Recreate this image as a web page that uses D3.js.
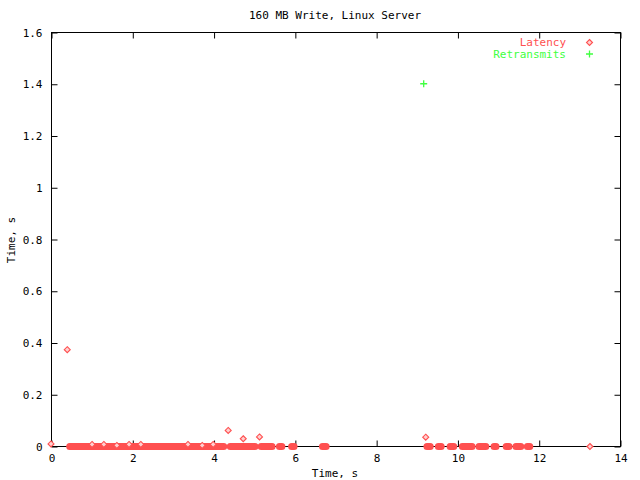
<!DOCTYPE html>
<html>
<head>
<meta charset="utf-8">
<script src="https://cdn.jsdelivr.net/npm/d3@7"></script>
<style>
  body { margin: 0; background: #fff; }
  text { font-family: "DejaVu Sans Mono", monospace; font-size: 11px; fill: #000; }
</style>
</head>
<body>
<svg id="chart" width="640" height="480"></svg>
<script>
// chart values
const title = '160 MB Write, Linux Server';
const xTicks = [0, 2, 4, 6, 8, 10, 12, 14];
const yTicks = [0, 0.2, 0.4, 0.6, 0.8, 1, 1.2, 1.4, 1.6];

// latency samples that stand alone: [time, latency]
const latencyPoints = [
    [0.0, 0.01], [0.40, 0.374], [1.01, 0.008], [1.30, 0.008], [1.62, 0.004],
    [1.92, 0.008], [2.21, 0.008], [3.37, 0.008], [3.72, 0.004], [3.99, 0.008],
    [4.36, 0.062], [4.73, 0.030], [5.13, 0.037], [9.22, 0.036], [13.26, 0.0]
];
// dense runs of latency samples sitting on zero: start and end time
const runStart = [0.46, 4.41, 5.17, 5.62, 5.92, 6.68, 9.25, 9.53, 9.82, 10.12, 10.53, 10.90, 11.20, 11.44, 11.72];
const runEnd   = [4.25, 5.02, 5.44, 5.68, 5.98, 6.77, 9.33, 9.60, 9.91, 10.36, 10.70, 10.95, 11.27, 11.56, 11.78];

// retransmits: [time, value]
const retransmits = [[9.17, 1.4]];

const red = '#ff5050';
const green = '#40ff40';

const margin = {left: 51, right: 20, top: 32, bottom: 34};
const width = 640, height = 480;

const svg = d3.select('#chart');

const x = d3.scaleLinear().domain([0, 14]).range([margin.left, width - margin.right]);
const y = d3.scaleLinear().domain([0, 1.6]).range([height - margin.bottom, margin.top]);

const fmt = d => String(+d.toFixed(1));

// frame
svg.append('rect')
    .attr('x', x(0) + 0.5).attr('y', y(1.6) + 0.5)
    .attr('width', x(14) - x(0)).attr('height', y(0) - y(1.6))
    .attr('fill', 'none').attr('stroke', '#000');

// axes with inward ticks, mirrored on the far sides
const addAxis = (axis, tx, ty) => {
    const g = svg.append('g').attr('transform', `translate(${tx},${ty})`).call(axis);
    g.select('.domain').remove();
    g.selectAll('line').attr('stroke', '#000');
    g.selectAll('text').style('font-family', '"DejaVu Sans Mono", monospace').style('font-size', '11px').attr('fill', '#000');
    return g;
};
addAxis(d3.axisBottom(x).tickValues(xTicks).tickFormat(fmt).tickSizeInner(-6).tickPadding(8), 0.5, y(0) + 0.5);
addAxis(d3.axisTop(x).tickValues(xTicks).tickFormat('').tickSizeInner(-6), 0.5, y(1.6) + 0.5);
addAxis(d3.axisLeft(y).tickValues(yTicks).tickFormat(fmt).tickSizeInner(-6).tickPadding(9), x(0) + 0.5, 0.5);
addAxis(d3.axisRight(y).tickValues(yTicks).tickFormat('').tickSizeInner(-6), x(14) + 0.5, 0.5);

// labels
svg.append('text').attr('x', 335).attr('y', 19).attr('text-anchor', 'middle').text(title);
svg.append('text').attr('x', 335).attr('y', 477).attr('text-anchor', 'middle').text('Time, s');
svg.append('text').attr('transform', 'translate(15,240) rotate(-90)').attr('text-anchor', 'middle').text('Time, s');

const diamond = (g, cx, cy) => g.append('path')
    .attr('d', `M${cx},${cy - 3}L${cx + 3},${cy}L${cx},${cy + 3}L${cx - 3},${cy}Z`)
    .attr('fill', '#ffd0d0').attr('stroke', red).attr('stroke-width', 1.1);

const plot = svg.append('g');

// dense runs drawn as thick bands
plot.selectAll('line.run')
    .data(d3.range(runStart.length))
    .join('line')
    .attr('class', 'run')
    .attr('x1', i => x(runStart[i])).attr('x2', i => x(runEnd[i]))
    .attr('y1', y(0) + 0.5).attr('y2', y(0) + 0.5)
    .attr('stroke', red).attr('stroke-width', 7).attr('stroke-linecap', 'round');

latencyPoints.forEach(p => diamond(plot, x(p[0]), y(p[1]) + 0.5));

const plus = (g, cx, cy, color) => g.append('path')
    .attr('d', `M${cx - 3.5},${cy}H${cx + 3.5}M${cx},${cy - 3.5}V${cy + 3.5}`)
    .attr('stroke', color).attr('stroke-width', 1.3).attr('fill', 'none');

retransmits.forEach(p => plus(plot, x(p[0]), y(p[1]), green));

// legend
svg.append('text').attr('x', 566).attr('y', 46).attr('text-anchor', 'end').style('fill', red).text('Latency');
diamond(svg, 589.5, 42.5);
svg.append('text').attr('x', 566).attr('y', 58).attr('text-anchor', 'end').style('fill', green).text('Retransmits');
plus(svg, 589.5, 54, green);
</script>
</body>
</html>
